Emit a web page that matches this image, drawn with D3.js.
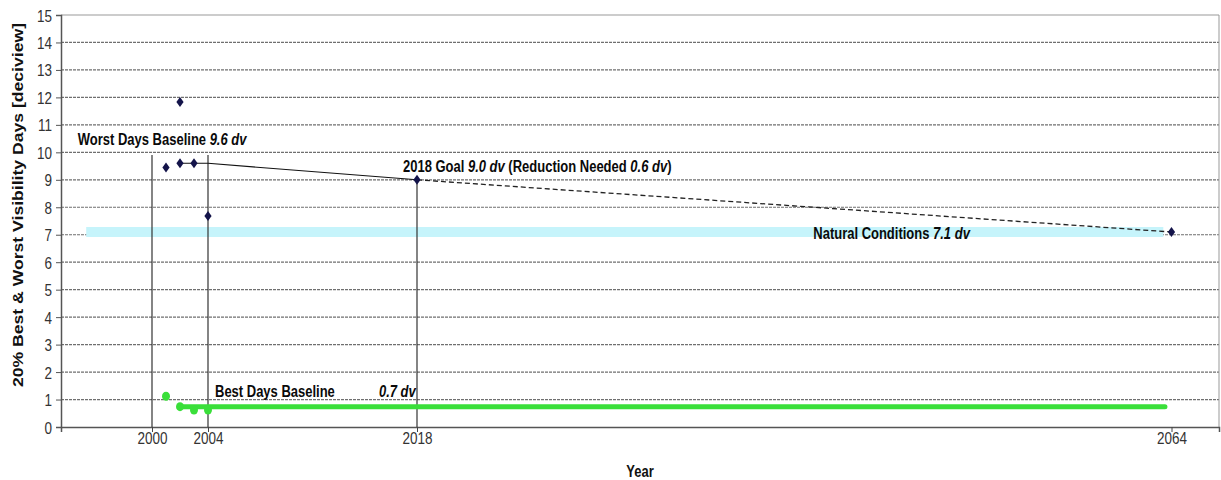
<!DOCTYPE html>
<html>
<head>
<meta charset="utf-8">
<script src="https://cdn.jsdelivr.net/npm/d3@7"></script>
<style>
  body { margin: 0; background: #fff; }
  text { font-family: Arial, "Liberation Sans", sans-serif; }
</style>
</head>
<body>
<svg id="chart" width="1221" height="480"></svg>
<script>
// ---- data ----
var yearTicks = [2000, 2004, 2018, 2064];
var yTicks = d3.range(0, 16);

var worstYears = [2001, 2002, 2004];
var worstValues = [9.45, 11.83, 7.68];

var bestYears = [2001, 2002, 2003, 2004];
var bestValues = [1.12, 0.74, 0.62, 0.62];

// glide path: baseline -> 2018 goal (solid), 2018 -> natural conditions (dashed)
var glideYears = [2002, 2003, 2004, 2018];
var glideValues = [9.6, 9.6, 9.6, 9.0];
var uniformYears = [2018, 2064];
var uniformValues = [9.0, 7.1];
var glideMarkYears = [2002, 2003, 2018, 2064];
var glideMarkValues = [9.6, 9.6, 9.0, 7.1];

var bestBaselineYears = [2002, 2063.6];
var bestBaseline = 0.74;
var naturalYears = [1995.3, 2063.5];
var natural = 7.1;

var refYears = [2000, 2004, 2018];
var refTops = [9.9, 9.9, 9.0];

var svg = d3.select("svg#chart"),
    margin = { top: 15, right: 2, bottom: 53, left: 61 },
    width = 1221 - margin.left - margin.right,
    height = 480 - margin.top - margin.bottom,
    g = svg.append("g").attr("transform", "translate(" + margin.left + "," + margin.top + ")");

// the year axis of the original is not evenly spaced, so a piecewise scale
var x = d3.scaleLinear()
    .domain([1993.5, 2000, 2004, 2018, 2064, 2066.9])
    .range([0, 91, 147, 356, 1110.5, width]);

var y = d3.scaleLinear()
    .domain([0, 15])
    .range([height, 0]);

var stretch = 1.2;   // text in the picture is a bit taller than wide

function label(sel, px, py) {
    return sel.attr("transform", "translate(" + px + "," + py + ") scale(1," + stretch + ")");
}

// gridlines
g.selectAll(".grid")
    .data(yTicks.filter(function (d) { return d > 0; }))
    .enter().append("line")
    .attr("class", "grid")
    .attr("x1", 0)
    .attr("x2", width)
    .attr("y1", function (d) { return y(d); })
    .attr("y2", function (d) { return y(d); })
    .attr("stroke", function (d) { return d === 15 ? "#999" : "#6f6f6f"; })
    .attr("stroke-width", 1.2)
    .attr("stroke-dasharray", function (d) { return d === 15 ? null : "3,1"; });

// natural conditions band
g.append("line")
    .attr("x1", x(naturalYears[0]))
    .attr("x2", x(naturalYears[1]))
    .attr("y1", y(natural))
    .attr("y2", y(natural))
    .attr("stroke", "#c6f4fb")
    .attr("stroke-width", 10);

// right border
g.append("line")
    .attr("x1", width).attr("x2", width)
    .attr("y1", 0).attr("y2", height)
    .attr("stroke", "#999");

// y axis
var yAxis = g.append("g")
    .call(d3.axisLeft(y).tickValues(yTicks).tickSize(5).tickFormat(d3.format("d")));
yAxis.select(".domain").attr("stroke", "#555").attr("stroke-width", 1.5);
yAxis.selectAll(".tick line").attr("stroke", "#555");
yAxis.selectAll(".tick text")
    .attr("x", -9)
    .attr("dy", null)
    .attr("y", 5)
    .attr("fill", "#333")
    .style("font-size", "13.5px")
    .attr("transform", "scale(1," + stretch + ")");

// x axis
var xAxis = g.append("g")
    .attr("transform", "translate(0," + height + ")")
    .call(d3.axisBottom(x).tickValues(yearTicks).tickSize(5).tickFormat(d3.format("d")));
xAxis.select(".domain").attr("stroke", "#555").attr("stroke-width", 1.5);
xAxis.selectAll(".tick line").attr("stroke", "#444");
xAxis.selectAll(".tick text")
    .attr("y", 14)
    .attr("dy", null)
    .attr("fill", "#333")
    .style("font-size", "13.5px")
    .attr("transform", "scale(1," + stretch + ")");

// vertical reference lines at baseline years and 2018
g.selectAll(".ref")
    .data(refYears)
    .enter().append("line")
    .attr("class", "ref")
    .attr("x1", function (d) { return x(d); })
    .attr("x2", function (d) { return x(d); })
    .attr("y1", function (d, i) { return y(refTops[i]); })
    .attr("y2", height)
    .attr("stroke", "#333")
    .attr("stroke-width", 1.2);

// glide path
var line = d3.line()
    .x(function (d) { return x(d[0]); })
    .y(function (d) { return y(d[1]); });

g.append("path")
    .datum(d3.zip(glideYears, glideValues))
    .attr("d", line)
    .attr("fill", "none")
    .attr("stroke", "#111")
    .attr("stroke-width", 1.1);

g.append("path")
    .datum(d3.zip(uniformYears, uniformValues))
    .attr("d", line)
    .attr("fill", "none")
    .attr("stroke", "#222")
    .attr("stroke-width", 1.3)
    .attr("stroke-dasharray", "5,3");

// best days baseline
g.append("line")
    .attr("x1", x(bestBaselineYears[0]))
    .attr("x2", x(bestBaselineYears[1]))
    .attr("y1", y(bestBaseline))
    .attr("y2", y(bestBaseline))
    .attr("stroke", "#3adf3a")
    .attr("stroke-width", 5)
    .attr("stroke-linecap", "round");

// best days points
g.selectAll(".best")
    .data(d3.zip(bestYears, bestValues))
    .enter().append("ellipse")
    .attr("class", "best")
    .attr("cx", function (d) { return x(d[0]); })
    .attr("cy", function (d) { return y(d[1]); })
    .attr("rx", 4)
    .attr("ry", 4.5)
    .attr("fill", "#3adf3a");

// worst days + glide markers (navy diamonds)
var diamond = "M0,-5L3.6,0L0,5L-3.6,0Z";
g.selectAll(".worst")
    .data(d3.zip(worstYears, worstValues).concat(d3.zip(glideMarkYears, glideMarkValues)))
    .enter().append("path")
    .attr("class", "worst")
    .attr("d", diamond)
    .attr("transform", function (d) { return "translate(" + x(d[0]) + "," + y(d[1]) + ")"; })
    .attr("fill", "#14144a");

// annotations
function annotate(parts, yr, val) {
    var t = g.append("text")
        .style("font-size", "13px")
        .style("font-weight", "bold")
        .attr("fill", "#0a0a0a");
    label(t, x(yr), y(val));
    parts.forEach(function (p) {
        t.append("tspan")
            .style("font-style", p[1] ? "italic" : "normal")
            .text(p[0]);
    });
}

annotate([["Worst Days Baseline ", false], ["9.6 dv", true]], 1994.7, 10.27);
annotate([["2018 Goal ", false], ["9.0 dv", true], [" (Reduction Needed ", false], ["0.6 dv", true], [")", false]], 2017.06, 9.28);
annotate([["Natural Conditions ", false], ["7.1 dv", true]], 2042.16, 6.85);
annotate([["Best Days Baseline", false]], 2004.47, 1.09);
annotate([["0.7 dv", true]], 2015.45, 1.09);

// axis titles
label(svg.append("text"), margin.left + width / 2, 477)
    .attr("text-anchor", "middle")
    .style("font-size", "13px")
    .style("font-weight", "bold")
    .attr("fill", "#111")
    .text("Year");

svg.append("text")
    .attr("transform", "translate(23,205) rotate(-90)")
    .attr("text-anchor", "middle")
    .attr("textLength", 364)
    .attr("lengthAdjust", "spacingAndGlyphs")
    .style("font-size", "14px")
    .style("font-weight", "bold")
    .attr("fill", "#111")
    .text("20% Best & Worst Visibility Days [deciview]");
</script>
</body>
</html>
